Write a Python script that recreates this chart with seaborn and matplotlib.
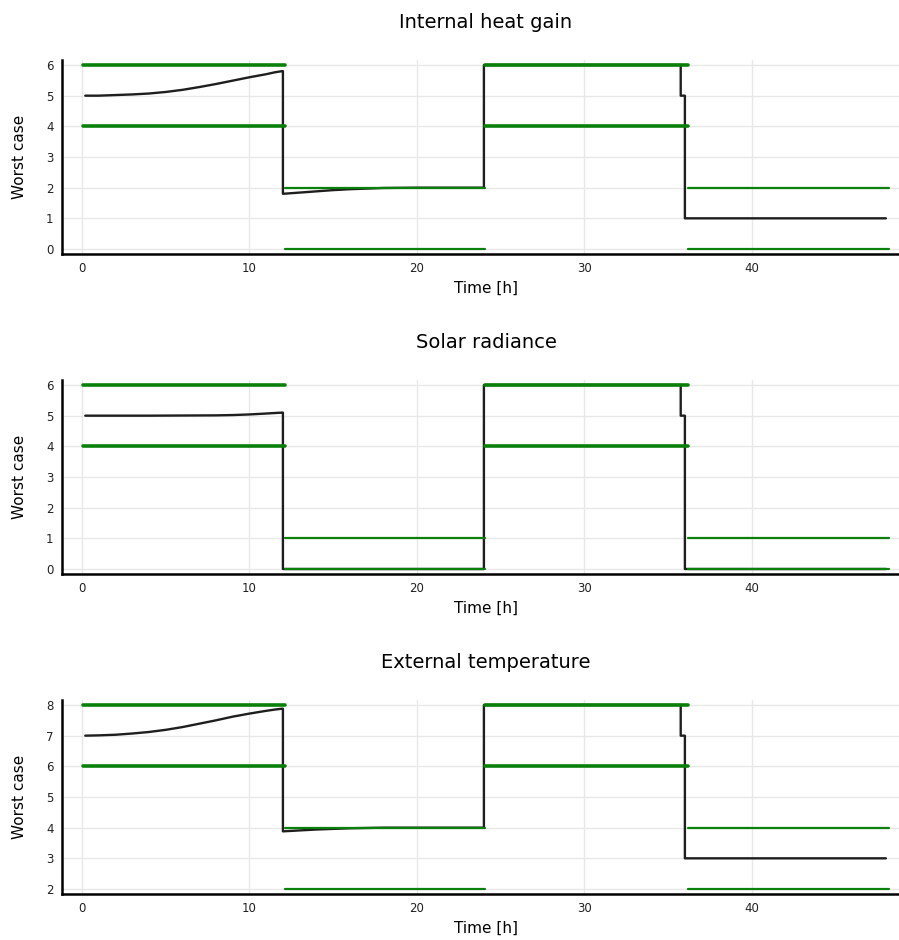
import matplotlib
matplotlib.use("Agg")
import matplotlib.pyplot as plt
import seaborn as sns

# panel titles
titles = ["Internal heat gain", "Solar radiance", "External temperature"]

# green bound segments (same time windows for all panels)
seg_start = [0.05, 12.1, 24.05, 36.2]
seg_end = [12.1, 24.05, 36.2, 48.2]
upper_bounds = [[6, 2, 6, 2], [6, 1, 6, 1], [8, 4, 8, 4]]
lower_bounds = [[4, 0, 4, 0], [4, 0, 4, 0], [6, 2, 6, 2]]
seg_width = [2.6, 1.6, 2.6, 1.6]

# worst case trajectories (black)
heat_t = [0.2, 1, 2, 3, 4, 5, 6, 7, 8, 9, 10, 11, 11.5, 11.95, 12.0, 12.0, 13, 14, 15, 16, 17, 18, 20,
          24.0, 24.0, 35.75, 35.75, 36.0, 36.0, 48.0]
heat_v = [5.0, 5.0, 5.02, 5.04, 5.07, 5.12, 5.19, 5.28, 5.38, 5.49, 5.6, 5.7, 5.76, 5.8, 5.8, 1.8, 1.84,
          1.88, 1.92, 1.95, 1.97, 1.99, 2.0, 2.0, 6.0, 6.0, 5.0, 5.0, 1.0, 1.0]

solar_t = [0.2, 4, 8, 9, 10, 11, 11.95, 12.0, 12.0, 24.0, 24.0, 35.75, 35.75, 36.0, 36.0, 48.0]
solar_v = [5.0, 5.0, 5.01, 5.02, 5.04, 5.07, 5.1, 5.1, 0.0, 0.0, 6.0, 6.0, 5.0, 5.0, 0.0, 0.0]

temp_t = [0.2, 1, 2, 3, 4, 5, 6, 7, 8, 9, 10, 11, 11.5, 11.95, 12.0, 12.0, 13, 14, 15, 16, 17, 18,
          24.0, 24.0, 35.75, 35.75, 36.0, 36.0, 48.0]
temp_v = [7.0, 7.01, 7.03, 7.07, 7.12, 7.19, 7.28, 7.39, 7.5, 7.62, 7.72, 7.81, 7.85, 7.88, 7.88, 3.88,
          3.91, 3.94, 3.96, 3.98, 3.99, 4.0, 4.0, 8.0, 8.0, 7.0, 7.0, 3.0, 3.0]

worst_t = [heat_t, solar_t, temp_t]
worst_v = [heat_v, solar_v, temp_v]

y_ranges = [(0, 6), (0, 6), (2, 8)]

sns.set_style("white")
plt.rcParams["font.family"] = ["DejaVu Sans"]

fig = plt.figure(figsize=(8.99, 9.40), dpi=100)

W, H = 899, 940
tops = [60, 380, 700]
ax_h = 194
left_px, right_px = 62, 910

for i in range(3):
    top = tops[i]
    ax = fig.add_axes([left_px / W, 1 - (top + ax_h) / H, (right_px - left_px) / W, ax_h / H])

    sns.lineplot(x=worst_t[i], y=worst_v[i], ax=ax, color="#1e1e1e",
                 linewidth=1.7, estimator=None, sort=False, zorder=3)

    for j in range(4):
        for lvl in (upper_bounds[i][j], lower_bounds[i][j]):
            sns.lineplot(x=[seg_start[j], seg_end[j]], y=[lvl, lvl], ax=ax,
                         color="#0a800a", linewidth=seg_width[j], estimator=None,
                         sort=False, zorder=4)

    lo, hi = y_ranges[i]
    pad = (hi - lo) * 0.0272
    ax.set_ylim(lo - pad, hi + pad)
    ax.set_xlim(-1.19, 49.44)
    ax.set_xticks([0, 10, 20, 30, 40])
    ax.set_yticks(range(lo, hi + 1))

    ax.grid(True, color="#e8e8e8", linewidth=1.0, zorder=0)
    ax.set_axisbelow(True)
    for s in ["top", "right"]:
        ax.spines[s].set_visible(False)
    for s in ["left", "bottom"]:
        ax.spines[s].set_linewidth(1.8)
        ax.spines[s].set_color("black")
    ax.tick_params(direction="in", length=3, width=1.2, labelsize=8.5,
                   labelcolor="#222222", pad=6, color="black")

    ax.set_title(titles[i], fontsize=14, pad=23, color="black")
    ax.set_xlabel("Time [h]", fontsize=11, labelpad=4, color="black")
    ax.set_ylabel("Worst case", fontsize=11, labelpad=14, color="black")

fig.savefig("out.png", dpi=100)
